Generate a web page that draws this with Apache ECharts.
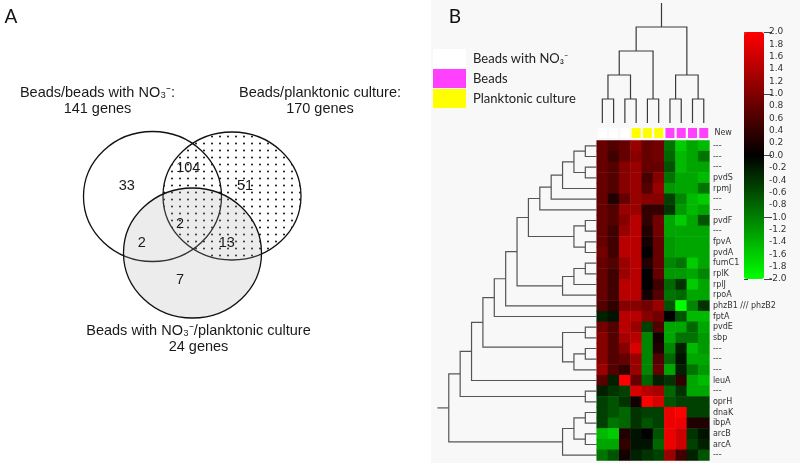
<!DOCTYPE html>
<html><head><meta charset="utf-8">
<script src="https://cdn.jsdelivr.net/npm/echarts@6/dist/echarts.min.js"></script>
<style>html,body{margin:0;padding:0;background:#fff}#c{width:800px;height:463px}</style>
</head><body><div id="c"></div>
<script>
// ---------------- DATA ----------------
const rowLabels = ['---','---','---','pvdS','rpmJ','---','---','pvdF','---','fpvA','pvdA','fumC1','rplK','rplJ','rpoA','phzB1 /// phzB2','fptA','pvdE','sbp','---','---','---','leuA','---','oprH','dnaK','ibpA','arcB','arcA','---'];
const groupNames = ['Beads with NO₃⁻', 'Beads', 'Planktonic culture'];
const columnGroup = [0, 0, 0, 2, 2, 2, 1, 1, 1, 1]; // index into groupNames, per heatmap column
const columnTrackLabel = ['New'];
const heatValues = [
  [0.8, 0.65, 0.8, 1.2, 0.8, 0.9, -0.9, -1.6, -1.3, -1.45],
  [0.8, 0.5, 0.8, 1.05, 0.8, 0.9, -0.8, -1.45, -1.3, -0.9],
  [0.8, 0.65, 1.05, 1.2, 0.8, 0.8, -0.65, -1.45, -1.3, -1.3],
  [0.8, 0.65, 1.05, 1.2, 0.55, 1.05, -0.9, -1.3, -1.3, -1.45],
  [0.8, 0.65, 1.05, 1.2, 0.65, 1.2, -1.2, -1.3, -1.3, -0.9],
  [0.8, 0.25, 0.8, 1.2, 1.05, 1.05, -0.5, -1.05, -1.45, -1.6],
  [0.8, 0.65, 1.2, 1.2, 0.4, 0.4, -0.4, -1.2, -1.45, -1.3],
  [0.8, 0.65, 1.05, 1.45, 0.4, 0.9, -1.3, -1.6, -1.3, -0.65],
  [0.8, 0.5, 1.2, 1.45, 0.25, 0.9, -1.3, -1.3, -1.3, -1.3],
  [0.8, 0.5, 1.45, 1.45, 0.15, 0.8, -1.2, -1.3, -1.3, -1.3],
  [0.9, 0.5, 1.45, 1.45, 0.0, 0.8, -1.2, -1.3, -1.3, -1.3],
  [0.8, 0.65, 1.2, 1.45, 0.25, 0.8, -1.05, -0.9, -1.6, -1.3],
  [0.8, 0.5, 1.2, 1.45, 0.0, 0.8, -1.2, -1.2, -1.3, -1.05],
  [0.8, 0.5, 1.45, 1.45, 0.0, 0.5, -0.8, -0.4, -1.6, -1.3],
  [0.8, 0.5, 1.45, 1.45, 0.15, 0.65, -0.9, -0.8, -1.3, -1.3],
  [0.65, 0.4, 1.05, 1.05, 0.9, 1.2, -0.65, -2.0, -1.05, -0.4],
  [-0.25, -0.15, 1.45, 1.45, 1.05, 0.9, 0.0, -0.65, -1.45, -1.45],
  [0.9, 0.65, 1.45, 1.2, -0.5, 0.65, -1.3, -1.3, -0.8, -1.3],
  [1.05, 0.65, 1.3, 1.45, -1.05, 0.15, -1.3, -0.9, -0.9, -1.2],
  [1.05, 0.65, 1.05, 1.7, -1.05, 0.25, -1.05, -0.25, -1.45, -1.2],
  [1.05, 0.65, 0.8, 1.2, -1.05, 0.65, -0.8, -0.15, -1.3, -1.3],
  [1.2, 0.65, 0.4, 1.2, -1.05, 0.8, -1.3, -0.25, -0.9, -1.2],
  [0.7, -0.25, 2.0, 0.8, -0.8, -0.25, -0.4, 0.4, -1.3, -1.45],
  [-0.25, -0.4, -0.5, 1.7, 1.45, 1.3, -0.8, -0.4, -1.3, -1.3],
  [-0.5, -0.65, -0.4, 0.15, 2.0, 1.7, -0.65, -0.5, -0.5, -0.5],
  [-0.5, -0.65, -0.8, -0.4, -0.5, -0.5, 1.85, 2.0, -0.5, -0.5],
  [-0.5, -0.9, -0.8, -0.4, -0.65, -0.5, 1.85, 1.85, 0.25, 0.25],
  [-1.45, -1.6, 0.25, -0.15, 0.0, -0.65, 1.85, 1.6, -0.4, -0.15],
  [-1.3, -1.3, 0.4, -0.15, -0.15, -0.8, 1.85, 1.6, -0.5, -0.25],
  [-0.9, -0.65, 0.15, -0.25, -0.4, -0.5, 1.2, 0.5, -0.25, -0.65]
];
// dendrograms: [mergeLevel, left, right]; leaves are row / column indices
const rowTree = [13,
  [12,
    [11,
      [10,
        [9,
          [8,
            [7,
              [6,
                [5, [4, [3, [2, [1, 0, 1], [1, 2, 3]], 4], 5], 6],
                [2, [1, 7, 8], [1, 9, 10]]],
              [3, [2, [1, 11, 12], 13], 14]],
            15],
          16],
        [3, [1, 17, 18], [2, [1, 19, 20], 21]]],
      22],
    [1, 23, 24]],
  [3, [2, [1, 25, 26], [1, 27, 28]], 29]];
const rowTreeTop = 14;
const colTree = [4, [3, [2, [1, 0, 1], [1, 2, 3]], [1, 4, 5]], [2, [1, 6, 7], [1, 8, 9]]];
const colTreeTop = 5;
const scaleMin = -2, scaleMax = 2, scaleStep = 0.2, scaleMajorStep = 1;

const vennSetNames = ['Beads/beads with NO₃⁻:', 'Beads/planktonic culture:', 'Beads with NO₃⁻/planktonic culture'];
const vennSetTotals = [141, 170, 24];
// regions: A only, A∩B, B only, A∩B∩C, A∩C, B∩C, C only
const vennRegionCounts = [33, 104, 51, 2, 2, 13, 7];

// ---------------- LAYOUT / STYLE ----------------
const vennCircles = [
  {cx: 152.5, cy: 196.5, rx: 69, ry: 65},
  {cx: 232, cy: 196, rx: 69, ry: 64},
  {cx: 192.5, cy: 253, rx: 69, ry: 65}
];
const vennRegionPos = [[126.7,186],[188.3,167.5],[245,186],[180,223.5],[141.7,243],[226.7,243],[180,280]];
const vennTitlePos = [[97.5, 101], [320, 101], [198.5, 339]];
const groupColors = ['#ffffff', '#ff40ff', '#ffff00'];

const pat = document.createElement('canvas');
pat.width = 8; pat.height = 7;
(function(){ const g = pat.getContext('2d'); g.fillStyle = '#111'; g.beginPath(); g.arc(4, 3.5, 1.0, 0, Math.PI*2); g.fill(); })();
const vennFills = ['#ffffff', {image: pat, repeat: 'repeat'}, 'rgba(170,170,170,0.22)'];

function layoutTree(node, segs) {
  if (typeof node === 'number') return {pos: node, level: 0};
  const lvl = node[0];
  const A = layoutTree(node[1], segs), B = layoutTree(node[2], segs);
  segs.push([[A.pos, A.level], [A.pos, lvl], [B.pos, lvl], [B.pos, B.level]]);
  return {pos: (A.pos + B.pos) / 2, level: lvl};
}
const colSegs = []; const colRoot = layoutTree(colTree, colSegs);
colSegs.push([[colRoot.pos, colRoot.level], [colRoot.pos, colTreeTop]]);
const rowSegs0 = []; const rowRoot = layoutTree(rowTree, rowSegs0);
rowSegs0.push([[rowRoot.pos, rowRoot.level], [rowRoot.pos, rowTreeTop]]);
const rowSegs = rowSegs0.map(s => s.map(p => [p[1], p[0]]));

const heatData = [];
heatValues.forEach((row, r) => row.forEach((v, c) => heatData.push([c, r, v])));
const nCols = heatValues[0].length;
const colCats = Array.from({length: nCols}, (_, i) => String(i));
const rowCats = rowLabels.map((_, i) => String(i));

const HX = 596.7, HW = 112.7, HY = 140.5, HH = 320;
const labelFont = 'DejaVu Sans';

const hidden = {show: false};
const option = {
  animation: false,
  backgroundColor: '#ffffff',
  graphic: [
    {type: 'rect', z: -10, shape: {x: 431, y: 0, width: 369, height: 463}, style: {fill: '#f8f8f8'}},
    {type: 'text', x: 11, y: 17, style: {text: 'A', fontSize: 19, fontFamily: 'Lato', fill: '#111', align: 'center', verticalAlign: 'middle'}},
    {type: 'text', x: 455, y: 17, style: {text: 'B', fontSize: 19, fontFamily: 'Lato', fill: '#111', align: 'center', verticalAlign: 'middle'}}
  ],
  legend: {
    orient: 'vertical', left: 433, top: 49, padding: 0,
    itemWidth: 33, itemHeight: 19, itemGap: 1, icon: 'rect',
    selectedMode: false,
    data: groupNames,
    textStyle: {fontFamily: 'Lato', fontSize: 13, color: '#222', padding: [0, 0, 0, 2]}
  },
  grid: [
    {left: HX, top: HY, width: HW, height: HH},
    {left: HX, top: 3, width: HW, height: 120},
    {left: HX, top: 128, width: HW, height: 10},
    {left: 437.4, top: HY, width: HX - 437.4, height: HH},
    {left: 744, top: 32, width: 20, height: 247},
    {left: 0, top: 0, width: 420, height: 463}
  ],
  xAxis: [
    {gridIndex: 0, type: 'category', data: colCats, show: false},
    {gridIndex: 1, type: 'value', min: -0.5, max: nCols - 0.5, show: false},
    {gridIndex: 2, type: 'category', data: colCats, show: false},
    {gridIndex: 3, type: 'value', min: 0, max: rowTreeTop, inverse: true, show: false},
    {gridIndex: 4, type: 'value', min: 0, max: 1, show: false},
    {gridIndex: 5, type: 'value', min: 0, max: 420, show: false}
  ],
  yAxis: [
    {gridIndex: 0, type: 'category', data: rowCats, inverse: true, position: 'right',
      axisLine: hidden, axisTick: hidden, splitLine: hidden,
      axisLabel: {interval: 0, margin: 3.5, fontSize: 8, fontFamily: labelFont, color: '#333',
        formatter: v => rowLabels[+v]}},
    {gridIndex: 1, type: 'value', min: 0, max: colTreeTop, show: false},
    {gridIndex: 2, type: 'category', data: columnTrackLabel, position: 'right',
      axisLine: hidden, axisTick: hidden, splitLine: hidden,
      axisLabel: {margin: 5, fontSize: 8, fontFamily: labelFont, color: '#333'}},
    {gridIndex: 3, type: 'value', min: -0.5, max: rowLabels.length - 0.5, inverse: true, show: false},
    {gridIndex: 4, type: 'value', min: scaleMin, max: scaleMax, interval: scaleStep, position: 'right',
      axisLine: hidden, splitLine: hidden,
      axisTick: {show: true, length: 4, lineStyle: {color: '#444'}},
      axisLabel: {margin: 5, fontSize: 9, fontFamily: labelFont, color: '#333',
        formatter: v => (Math.abs(v) < 1e-9 ? 0 : v).toFixed(1)}},
    {gridIndex: 4, type: 'value', min: scaleMin, max: scaleMax, interval: scaleMajorStep, position: 'right',
      axisLine: hidden, splitLine: hidden, axisLabel: hidden,
      axisTick: {show: true, length: 8, lineStyle: {color: '#444'}}},
    {gridIndex: 5, type: 'value', min: 0, max: 463, inverse: true, show: false}
  ],
  visualMap: {
    type: 'continuous', min: scaleMin, max: scaleMax, seriesIndex: 0, dimension: 2,
    inRange: {color: ['#00ff00', '#000000', '#ff0000']},
    left: 744, top: 32, itemWidth: 20, itemHeight: 247, padding: 0,
    calculable: false, hoverLink: false, text: null, textStyle: {fontSize: 0},
    borderWidth: 0
  },
  series: [
    {type: 'heatmap', xAxisIndex: 0, yAxisIndex: 0, data: heatData, silent: true},
    {type: 'lines', coordinateSystem: 'cartesian2d', xAxisIndex: 1, yAxisIndex: 1, polyline: true, silent: true,
      lineStyle: {color: '#3a3a3a', width: 1.2, opacity: 1},
      data: colSegs.map(s => ({coords: s}))},
    {type: 'lines', coordinateSystem: 'cartesian2d', xAxisIndex: 3, yAxisIndex: 3, polyline: true, silent: true,
      lineStyle: {color: '#555', width: 1.2, opacity: 1},
      data: rowSegs.map(s => ({coords: s}))},
    ...groupNames.map((name, g) => ({
      type: 'scatter', name: name, xAxisIndex: 2, yAxisIndex: 2, symbol: 'rect', symbolSize: [9, 10],
      itemStyle: {color: groupColors[g], opacity: 1}, silent: true,
      data: columnGroup.map((gg, c) => gg === g ? [c, 0] : null).filter(d => d)
    })),
    {type: 'custom', coordinateSystem: 'cartesian2d', xAxisIndex: 5, yAxisIndex: 6, silent: true, z: 3,
      data: vennCircles.map((c, i) => [c.cx, c.cy, i]),
      renderItem: (params, api) => {
        const c = vennCircles[params.dataIndex];
        const p = api.coord([c.cx, c.cy]);
        const s = api.size([c.rx, c.ry]);
        return {type: 'ellipse', shape: {cx: p[0], cy: p[1], rx: s[0], ry: s[1]},
          style: {fill: vennFills[params.dataIndex], stroke: '#111', lineWidth: 1.3}};
      }},
    {type: 'custom', coordinateSystem: 'cartesian2d', xAxisIndex: 5, yAxisIndex: 6, silent: true, z: 5,
      data: vennRegionCounts.map((v, i) => [vennRegionPos[i][0], vennRegionPos[i][1], v]),
      renderItem: (params, api) => {
        const p = api.coord([api.value(0), api.value(1)]);
        return {type: 'text', x: p[0], y: p[1], style: {text: String(api.value(2)), fontSize: 14.5,
          fontFamily: 'Liberation Sans', fill: '#1a1a1a', align: 'center', verticalAlign: 'middle'}};
      }},
    {type: 'custom', coordinateSystem: 'cartesian2d', xAxisIndex: 5, yAxisIndex: 6, silent: true, z: 5,
      data: vennSetTotals.map((v, i) => [vennTitlePos[i][0], vennTitlePos[i][1], v]),
      renderItem: (params, api) => {
        const p = api.coord([api.value(0), api.value(1)]);
        return {type: 'text', x: p[0], y: p[1], style: {
          text: vennSetNames[params.dataIndex] + '\n' + api.value(2) + ' genes',
          fontSize: 14.5, lineHeight: 16, fontFamily: 'Liberation Sans', fill: '#1a1a1a',
          align: 'center', verticalAlign: 'middle'}};
      }}
  ]
};
const chart = echarts.init(document.getElementById('c'), null, {renderer: 'canvas'});
chart.setOption(option);
</script></body></html>
